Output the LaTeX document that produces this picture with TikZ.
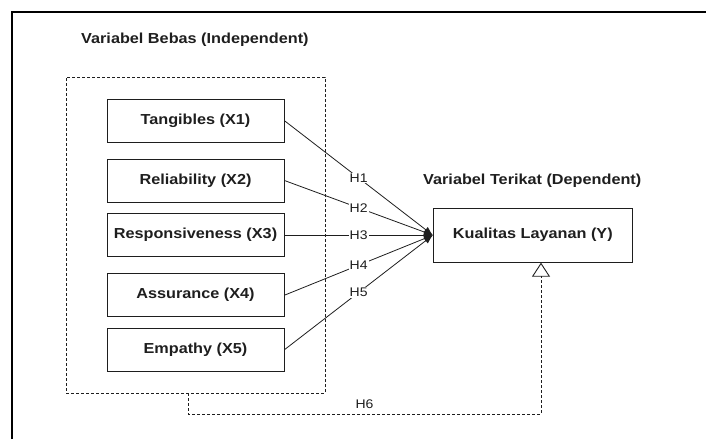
\documentclass[tikz,border=0pt]{standalone}
\usepackage{fontspec}
\setmainfont{Liberation Sans}[FakeStretch=1.12]
\usetikzlibrary{arrows.meta,positioning}

\definecolor{T1}{HTML}{1E1E1E}

\tikzset{
    varbox/.style={draw=T1,line width=0.9pt,minimum width=177pt,minimum height=43pt,inner sep=0pt,text=T1,font=\fontsize{14.5}{17}\selectfont\bfseries},
    hlabel/.style={fill=white,inner sep=1pt,text=T1,font=\fontsize{12.5}{14}\selectfont},
    grouplabel/.style={anchor=west,inner sep=0pt,text=T1,font=\fontsize{14.5}{17}\selectfont\bfseries},
    dashbox/.style={draw=T1,line width=0.9pt,dash pattern=on 3pt off 2pt}
}

\begin{document}
\begin{tikzpicture}[x=1pt,y=-1pt]
        \useasboundingbox (0,0) rectangle (706,439);
        \draw [line width=1.3pt] (12,439)--(12,12)--(706,12);
        \node [grouplabel] (judulx) at (81,40) {Variabel Bebas (Independent)};
        \node [dashbox,minimum width=259pt,minimum height=316pt] (bebas) at (195.5,235) {};
        \node [varbox] (x1) at (195.5,120.7) {Tangibles (X1)};
        \node [varbox] (x2) at (195.5,180.5) {Reliability (X2)};
        \node [varbox] (x3) at (195.5,235.2) {Responsiveness (X3)};
        \node [varbox] (x4) at (195.5,295.2) {Assurance (X4)};
        \node [varbox] (x5) at (195.5,349.7) {Empathy (X5)};
        \node [grouplabel] (judoly) at (423,181) {Variabel Terikat (Dependent)};
        \node [varbox,minimum width=199pt,minimum height=54pt] (y) at (532.8,235.2) {Kualitas Layanan (Y)};
        \foreach \i in {1,...,5}
            \draw [T1,line width=0.8pt,-{Latex[length=9pt,width=7pt]}] (x\i.east)--(y.west) node [hlabel,midway] {H\i};
        \coordinate (h6a) at (188,414);
        \coordinate (h6b) at (541,414);
        \draw [dashbox,-{Triangle[open,length=14pt,width=18pt,line width=0.9pt]}] (bebas.south -| h6a)--(h6a)--node [hlabel,fill=none,above=4pt] {H6} (h6b)--(y.south -| h6b);
    \end{tikzpicture}
\end{document}
